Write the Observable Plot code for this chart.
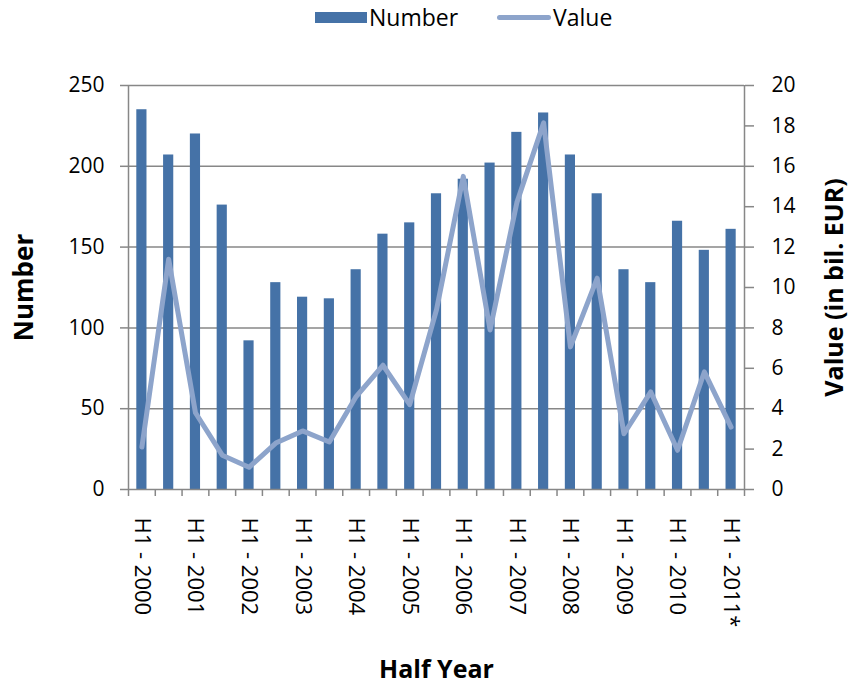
<!DOCTYPE html>
<html><head><meta charset="utf-8">
<script src="https://cdn.jsdelivr.net/npm/d3@7"></script>
<script src="https://cdn.jsdelivr.net/npm/@observablehq/plot@0.6"></script>
<style>
body{margin:0;background:#fff;font-family:"Open Sans",sans-serif;}
#legend{position:relative;height:38px;width:853px;font-size:23px;color:#000;}
#legend .sw{position:absolute;}
#legend .lb{position:absolute;top:2px;line-height:30px;}
</style></head><body>
<div id="legend">
  <div class="sw" style="left:315px;top:12px;width:52px;height:11px;background:#4572A7"></div>
  <div class="lb" style="left:369px">Number</div>
  <div class="sw" style="left:497px;top:15px;width:54px;height:5px;border-radius:3px;background:#8DA4CB"></div>
  <div class="lb" style="left:553px">Value</div>
</div>
<div id="chart"></div>
<script>
const periods = ["H1 - 2000","H2 - 2000","H1 - 2001","H2 - 2001","H1 - 2002","H2 - 2002","H1 - 2003","H2 - 2003","H1 - 2004","H2 - 2004","H1 - 2005","H2 - 2005","H1 - 2006","H2 - 2006","H1 - 2007","H2 - 2007","H1 - 2008","H2 - 2008","H1 - 2009","H2 - 2009","H1 - 2010","H2 - 2010","H1 - 2011*"];
const numbers = [235,207,220,176,92,128,119,118,136,158,165,183,192,202,221,233,207,183,136,128,166,148,161];
const values = [2.1,11.4,3.8,1.7,1.1,2.3,2.9,2.35,4.6,6.15,4.2,8.9,15.5,7.9,14.2,18.15,7.06,10.46,2.76,4.83,1.94,5.82,3.09];
const leftTicks = [0,50,100,150,200,250];
const rightTicks = [0,2,4,6,8,10,12,14,16,18,20];
const rightMax = 20, leftMax = 250;
const k = leftMax / rightMax;

const data = periods.map((p,i)=>({i, period:p, number:numbers[i], value:values[i], showLabel: p.startsWith("H1")}));
const gray = "#878787";

const chart = Plot.plot({
  width:853, height:647,
  marginTop:47, marginBottom:196, marginLeft:128, marginRight:109,
  x:{domain:[0,periods.length], axis:null},
  y:{domain:[0,leftMax], axis:null},
  style:{fontFamily:"'Open Sans',sans-serif", fontSize:"21px", color:"#000", background:"#fff"},
  marks:[
    Plot.gridY(leftTicks.slice(1), {stroke:gray, strokeOpacity:1, strokeWidth:1.5}),
    Plot.rectY(data, {x1:d=>d.i+0.31, x2:d=>d.i+0.69, y:"number", fill:"#4572A7"}),
    Plot.line(data, {x:d=>d.i+0.5, y:d=>d.value*k, stroke:"#8DA4CB", strokeWidth:5, strokeLinejoin:"round", strokeLinecap:"round"}),
    Plot.ruleY([0], {stroke:gray, strokeWidth:1.5}),
    Plot.ruleX([0, periods.length], {stroke:gray, strokeWidth:1.5}),
    Plot.axisY({anchor:"left", ticks:leftTicks, tickSize:8, tickPadding:16, stroke:gray, strokeWidth:1.5, label:null, fontSize:21}),
    Plot.axisY({anchor:"right", ticks:rightTicks.map(v=>v*k), tickFormat:d=>d3.format("d")(d/k), tickSize:9, tickPadding:18, stroke:gray, strokeWidth:1.5, label:null, fontSize:21}),
    Plot.axisX({ticks:d3.range(periods.length+1), tickFormat:()=>"", tickSize:7, stroke:gray, strokeWidth:1.5, label:null}),
    Plot.text(data.filter(d=>d.showLabel), {x:d=>d.i+0.5, text:"period", frameAnchor:"bottom", rotate:90, textAnchor:"start", lineAnchor:"middle", dy:28, fontSize:22, fill:"#000"}),
    Plot.text(["Number"], {frameAnchor:"left", dx:-104, rotate:-90, textAnchor:"middle", lineAnchor:"middle", fontWeight:"bold", fontSize:26, fill:"#000"}),
    Plot.text(["Value (in bil. EUR)"], {frameAnchor:"right", dx:90, rotate:-90, textAnchor:"middle", lineAnchor:"middle", fontWeight:"bold", fontSize:25, fill:"#000"}),
    Plot.text(["Half Year"], {frameAnchor:"bottom", dy:180, textAnchor:"middle", lineAnchor:"middle", fontWeight:"bold", fontSize:25, fill:"#000"})
  ]
});
document.getElementById("chart").appendChild(chart);
</script>
</body></html>
